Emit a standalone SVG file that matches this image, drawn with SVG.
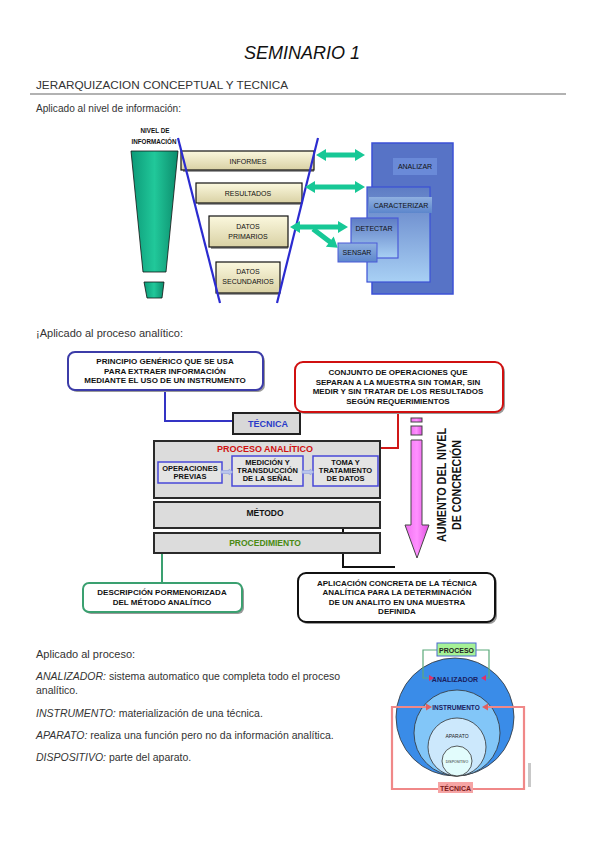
<svg xmlns="http://www.w3.org/2000/svg" width="599" height="848" viewBox="0 0 599 848">
<defs>
<style>
.hand{font-family:"Liberation Sans",Arial,sans-serif;fill:#333}
.it{font-style:italic}
.lbl{font-family:"Liberation Sans",Arial,sans-serif;font-size:7px;fill:#111;text-anchor:middle}
.b8{font-family:"Liberation Sans",Arial,sans-serif;font-size:8px;font-weight:bold;fill:#111;text-anchor:middle}
.beige{fill:url(#gBeige);stroke:#111;stroke-width:1.2}
.shadow{fill:#9a9a9a}
.garrow{fill:#17c896}
.gray{fill:#dcdcdc;stroke:#2a2a2a;stroke-width:2}
.sub{fill:#e4e4e4;stroke:#4848d8;stroke-width:1.5}
</style>
<linearGradient id="gBeige" x1="0" y1="0" x2="0" y2="1">
<stop offset="0" stop-color="#fbf8de"/><stop offset="1" stop-color="#d9d1a4"/>
</linearGradient>
<linearGradient id="gGreen" x1="0" y1="0" x2="1" y2="0">
<stop offset="0" stop-color="#0c9a78"/><stop offset="0.5" stop-color="#21c89a"/><stop offset="1" stop-color="#0c8c6c"/>
</linearGradient>
<linearGradient id="gCar" x1="0" y1="0" x2="0" y2="1">
<stop offset="0" stop-color="#5e7cc4"/><stop offset="1" stop-color="#a8d0f4"/>
</linearGradient>
<linearGradient id="gLab" x1="0" y1="0" x2="0" y2="1">
<stop offset="0" stop-color="#8fb0e0"/><stop offset="1" stop-color="#5c86cc"/>
</linearGradient>
<linearGradient id="gPink" x1="0" y1="0" x2="1" y2="0">
<stop offset="0" stop-color="#f070f0"/><stop offset="0.5" stop-color="#ff90ff"/><stop offset="1" stop-color="#e050e0"/>
</linearGradient>
</defs>
<rect width="599" height="848" fill="#ffffff"/>

<!-- Header -->
<text class="hand it" x="302" y="59" font-size="18" text-anchor="middle" style="fill:#111">SEMINARIO 1</text>
<text class="hand" x="36" y="89" font-size="11" textLength="252" lengthAdjust="spacingAndGlyphs">JERARQUIZACION CONCEPTUAL Y TECNICA</text>
<line x1="30" y1="94" x2="566" y2="94" stroke="#666" stroke-width="1.2"/>
<text class="hand" x="36" y="112" font-size="10" textLength="145" lengthAdjust="spacingAndGlyphs">Aplicado al nivel de información:</text>

<!-- Diagram 1: nivel de informacion -->
<g id="nivel-label">
<text x="155" y="133" font-family="Liberation Sans,Arial,sans-serif" font-size="7.5" font-weight="bold" text-anchor="middle" fill="#111" textLength="29" lengthAdjust="spacingAndGlyphs">NIVEL DE</text>
<text x="154" y="144" font-family="Liberation Sans,Arial,sans-serif" font-size="7.5" font-weight="bold" text-anchor="middle" fill="#111" textLength="45" lengthAdjust="spacingAndGlyphs">INFORMACIÓN</text>
</g>
<g id="green-funnel">
<polygon points="131,151 178,151 166,272 143,272" fill="url(#gGreen)" stroke="#111" stroke-width="0.8"/>
<polygon points="144,282 164,282 162,298 147,298" fill="url(#gGreen)" stroke="#111" stroke-width="0.8"/>
</g>
<g id="informes">
<rect class="shadow" x="183" y="153" width="131" height="19"/>
<rect class="beige" x="181" y="151" width="133" height="19"/>
<text class="lbl" x="248" y="163.5">INFORMES</text>
</g>
<g id="resultados">
<rect class="shadow" x="198" y="185" width="104" height="20"/>
<rect class="beige" x="196" y="183" width="106" height="20"/>
<text class="lbl" x="248" y="195.5">RESULTADOS</text>
</g>
<g id="datos-primarios">
<rect class="shadow" x="211" y="218" width="77" height="31"/>
<rect class="beige" x="209" y="216" width="79" height="31"/>
<text class="lbl" x="248" y="229">DATOS</text>
<text class="lbl" x="248" y="239">PRIMARIOS</text>
</g>
<g id="datos-secundarios">
<rect class="shadow" x="218" y="264" width="62" height="31"/>
<rect class="beige" x="216" y="262" width="64" height="31"/>
<text class="lbl" x="248" y="274">DATOS</text>
<text class="lbl" x="248" y="284">SECUNDARIOS</text>
</g>
<g id="funnel-lines" stroke="#2b2bd0" stroke-width="2.2">
<line x1="178" y1="138" x2="220" y2="303"/>
<line x1="318" y1="138" x2="277" y2="303"/>
</g>
<g id="analizar">
<rect x="372" y="143" width="81" height="151" fill="#5773c6" stroke="#3b50d6" stroke-width="1.5"/>
<rect x="393" y="158" width="44" height="17" fill="#6a8ad8"/>
<text class="lbl" x="415" y="169">ANALIZAR</text>
</g>
<g id="caracterizar">
<rect x="367" y="187" width="63" height="95" fill="url(#gCar)" stroke="#3b50d6" stroke-width="1.2"/>
<rect x="369" y="197" width="63" height="16" fill="url(#gLab)"/>
<text class="lbl" x="401" y="208">CARACTERIZAR</text>
</g>
<g id="detectar">
<rect x="351" y="218" width="47" height="40" fill="url(#gCar)" stroke="#4a5ad8" stroke-width="1.2"/>
<text class="lbl" x="374" y="231">DETECTAR</text>
</g>
<g id="sensar">
<rect x="338" y="243" width="39" height="19" fill="url(#gLab)" stroke="#4a5ad8" stroke-width="1"/>
<text class="lbl" x="357" y="255">SENSAR</text>
</g>
<g id="connectors-1">
<polygon class="garrow" points="316,155 326,149 326,152.5 355,152.5 355,149 365,155 355,161 355,157.5 326,157.5 326,161"/>
<polygon class="garrow" points="305,187 315,181 315,184.5 355,184.5 355,181 365,187 355,193 355,189.5 315,189.5 315,193"/>
<polygon class="garrow" points="290,227 300,221 300,224.5 338,224.5 338,221 348,227 338,233 338,229.5 300,229.5 300,233"/>
<polygon class="garrow" transform="translate(313,229) rotate(37)" points="0,-2.5 21,-2.5 21,-6.5 31,0 21,6.5 21,2.5 0,2.5"/>
</g>

<!-- Section 2 -->
<text class="hand" x="36" y="337" font-size="10" textLength="147" lengthAdjust="spacingAndGlyphs">¡Aplicado al proceso  analítico:</text>

<g id="connectors-2" fill="none">
<polyline points="165,390 165,421 245,421" stroke="#3434c4" stroke-width="2"/>
<polyline points="398,412 398,448 317,448" stroke="#d01818" stroke-width="2"/>
<polyline points="292,513 343,513 343,567 395,567" stroke="#111" stroke-width="2"/>
<polyline points="225,542 162,542 162,583" stroke="#3aa070" stroke-width="2"/>
</g>

<g id="principio">
<rect x="70" y="354" width="195" height="38" rx="7" fill="#999"/>
<rect x="68" y="352" width="195" height="38" rx="7" fill="#fff" stroke="#3c3ca8" stroke-width="2"/>
<text class="b8" x="165" y="364">PRINCIPIO GENÉRICO QUE SE USA</text>
<text class="b8" x="165" y="373.5">PARA EXTRAER INFORMACIÓN</text>
<text class="b8" x="165" y="383">MEDIANTE EL USO DE UN INSTRUMENTO</text>
</g>
<g id="tecnica">
<rect x="233" y="413" width="67" height="21" fill="#d8d8d8" stroke="#222" stroke-width="2"/>
<text class="b8" x="268" y="426.5" style="fill:#2a3ac8;font-size:9px">TÉCNICA</text>
</g>
<g id="conjunto">
<rect x="297" y="364" width="208" height="50" rx="8" fill="#999"/>
<rect x="295" y="362" width="208" height="50" rx="8" fill="#fff" stroke="#d01010" stroke-width="2"/>
<text class="b8" x="398" y="375">CONJUNTO DE OPERACIONES QUE</text>
<text class="b8" x="398" y="384.5">SEPARAN A LA MUESTRA SIN TOMAR, SIN</text>
<text class="b8" x="398" y="394">MEDIR Y SIN TRATAR DE LOS RESULTADOS</text>
<text class="b8" x="398" y="403.5">SEGÚN REQUERIMIENTOS</text>
</g>
<g id="proceso-analitico">
<rect class="gray" x="154" y="441" width="226" height="57"/>
<text class="b8" x="265" y="451.5" style="fill:#d01010;font-size:9px">PROCESO ANALÍTICO</text>
<rect class="sub" x="158" y="462" width="64" height="21"/>
<text class="b8" x="190" y="470.5" style="font-size:7.5px">OPERACIONES</text>
<text class="b8" x="190" y="478.5" style="font-size:7.5px">PREVIAS</text>
<rect class="sub" x="232" y="456" width="71" height="30"/>
<text class="b8" x="267.5" y="464.5" style="font-size:7.5px">MEDICIÓN Y</text>
<text class="b8" x="267.5" y="472.5" style="font-size:7.5px">TRANSDUCCIÓN</text>
<text class="b8" x="267.5" y="480.5" style="font-size:7.5px">DE LA SEÑAL</text>
<rect class="sub" x="313" y="456" width="65" height="30"/>
<text class="b8" x="345.5" y="464.5" style="font-size:7.5px">TOMA Y</text>
<text class="b8" x="345.5" y="472.5" style="font-size:7.5px">TRATAMIENTO</text>
<text class="b8" x="345.5" y="480.5" style="font-size:7.5px">DE DATOS</text>
<polygon points="221,470.5 229,470.5 229,469 233,472 229,475 229,473.5 221,473.5" fill="#b8c4ec" stroke="#8898d8" stroke-width="0.5"/>
<polygon points="302,470.5 310,470.5 310,469 314,472 310,475 310,473.5 302,473.5" fill="#b8c4ec" stroke="#8898d8" stroke-width="0.5"/>
</g>
<g id="metodo">
<rect class="gray" x="154" y="502" width="226" height="26"/>
<text class="b8" x="265" y="515.5" style="font-size:8.5px">MÉTODO</text>
</g>
<g id="procedimiento">
<rect class="gray" x="154" y="533" width="226" height="20"/>
<text class="b8" x="265" y="546" style="fill:#4a8a12;font-size:8.5px">PROCEDIMIENTO</text>
</g>
<g id="descripcion">
<rect x="85" y="585" width="159" height="29" rx="6" fill="#999"/>
<rect x="83" y="583" width="159" height="29" rx="6" fill="#fff" stroke="#3aa070" stroke-width="2"/>
<text class="b8" x="162" y="595">DESCRIPCIÓN PORMENORIZADA</text>
<text class="b8" x="162" y="604.5">DEL MÉTODO ANALÍTICO</text>
</g>
<g id="aplicacion">
<rect x="300" y="575" width="197" height="49" rx="8" fill="#999"/>
<rect x="298" y="573" width="197" height="49" rx="8" fill="#fff" stroke="#111" stroke-width="2"/>
<text class="b8" x="397" y="585.5">APLICACIÓN CONCRETA DE LA TÉCNICA</text>
<text class="b8" x="397" y="595">ANALÍTICA PARA LA DETERMINACIÓN</text>
<text class="b8" x="397" y="604.5">DE UN ANALITO EN UNA MUESTRA</text>
<text class="b8" x="397" y="614">DEFINIDA</text>
</g>
<g id="aumento">
<rect x="411" y="418" width="11" height="4" fill="url(#gPink)" stroke="#444" stroke-width="1"/>
<rect x="411" y="426" width="11" height="9" fill="url(#gPink)" stroke="#444" stroke-width="1"/>
<polygon points="411,440 422,440 422,525 429,525 417,558 405,525 411,525" fill="url(#gPink)" stroke="#444" stroke-width="1"/>
<text transform="translate(446,485) rotate(-90)" font-family="Liberation Sans,Arial,sans-serif" font-size="12" font-weight="bold" fill="#111" text-anchor="middle" textLength="114" lengthAdjust="spacingAndGlyphs">AUMENTO DEL NIVEL</text>
<text transform="translate(461,485) rotate(-90)" font-family="Liberation Sans,Arial,sans-serif" font-size="12" font-weight="bold" fill="#111" text-anchor="middle" textLength="90" lengthAdjust="spacingAndGlyphs">DE CONCRECIÓN</text>
</g>

<!-- Section 3 text -->
<text class="hand" x="36" y="658" font-size="11">Aplicado al proceso:</text>
<text class="hand" x="36" y="680" font-size="10.5"><tspan class="it">ANALIZADOR:</tspan> sistema automatico que completa todo el proceso</text>
<text class="hand" x="36" y="694" font-size="10.5">analítico.</text>
<text class="hand" x="36" y="717" font-size="10.5"><tspan class="it">INSTRUMENTO:</tspan> materialización de una técnica.</text>
<text class="hand" x="36" y="739" font-size="10.5"><tspan class="it">APARATO:</tspan> realiza una función pero no da información analítica.</text>
<text class="hand" x="36" y="761" font-size="10.5"><tspan class="it">DISPOSITIVO:</tspan> parte del aparato.</text>

<!-- Circles diagram -->
<g id="analizador">
<circle cx="455" cy="717" r="59" fill="#3a8ce8" stroke="#333" stroke-width="0.8"/>
<text x="455" y="682" font-family="Liberation Sans,Arial,sans-serif" font-size="7" font-weight="bold" fill="#1a2060" text-anchor="middle">ANALIZADOR</text>
</g>
<g id="instrumento">
<circle cx="457" cy="733" r="43" fill="#82c6f8" stroke="#333" stroke-width="0.8"/>
<text x="456" y="710" font-family="Liberation Sans,Arial,sans-serif" font-size="6.5" font-weight="bold" fill="#1a2060" text-anchor="middle">INSTRUMENTO</text>
</g>
<g id="aparato">
<circle cx="457" cy="747" r="29" fill="#cce8fc" stroke="#333" stroke-width="0.8"/>
<text x="457" y="738" font-family="Liberation Sans,Arial,sans-serif" font-size="5" fill="#222" text-anchor="middle">APARATO</text>
</g>
<g id="dispositivo">
<circle cx="457" cy="761" r="15" fill="#e2fcfc" stroke="#333" stroke-width="0.8"/>
<text x="457" y="763" font-family="Liberation Sans,Arial,sans-serif" font-size="3.5" fill="#222" text-anchor="middle">DISPOSITIVO</text>
</g>
<g id="connectors-3" fill="none">
<polyline points="437,650 423,650 423,678 431,678" stroke="#5aaa7a" stroke-width="1.2"/>
<polyline points="476,650 489,650 489,678 484,678" stroke="#5aaa7a" stroke-width="1.2"/>
<polygon points="429,675 434,678 429,681" fill="#e0306a"/>
<polygon points="486,675 481,678 486,681" fill="#e0306a"/>
<polyline points="438,789 392,789 392,707 428,707" stroke="#f08888" stroke-width="2.2"/>
<polyline points="473,789 524,789 524,707 486,707" stroke="#f08888" stroke-width="2.2"/>
<polygon points="426,703.5 432,707 426,710.5" fill="#e06060"/>
<polygon points="488,703.5 482,707 488,710.5" fill="#e06060"/>
</g>
<g id="proceso">
<rect x="437" y="643" width="39" height="13" fill="#a6f296" stroke="#4a6ad0" stroke-width="1"/>
<text x="456.5" y="652.5" font-family="Liberation Sans,Arial,sans-serif" font-size="7" font-weight="bold" fill="#222" text-anchor="middle">PROCESO</text>
</g>
<g id="tecnica-2">
<rect x="438" y="782" width="35" height="11" fill="#f6a4a4"/>
<text x="455.5" y="790.5" font-family="Liberation Sans,Arial,sans-serif" font-size="7" font-weight="bold" fill="#7a1a1a" text-anchor="middle">TÉCNICA</text>
</g>
<rect x="528" y="763" width="3" height="24" fill="#c8c8c8"/>
</svg>
